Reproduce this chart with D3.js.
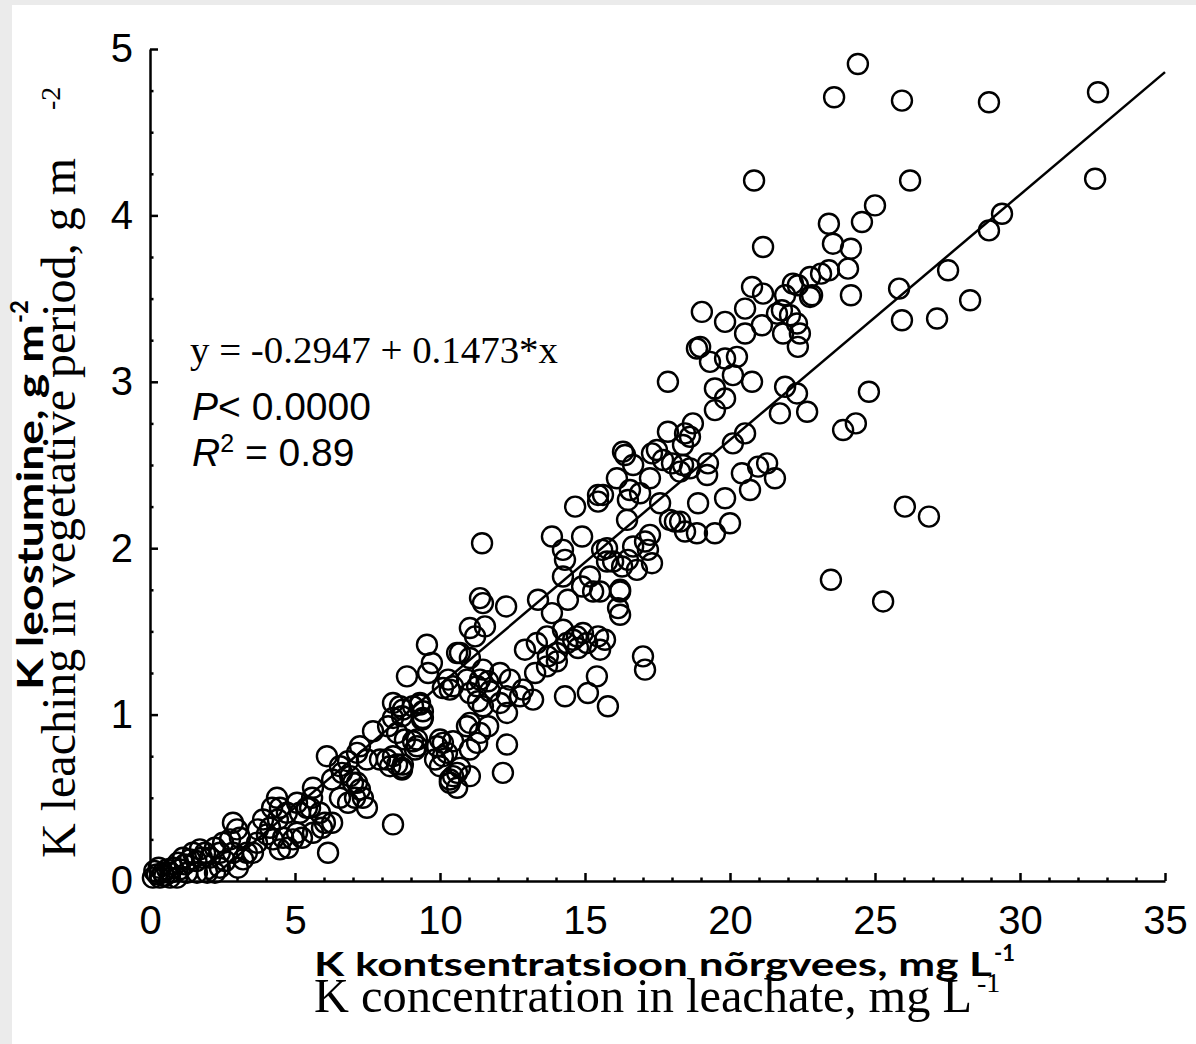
<!DOCTYPE html>
<html>
<head>
<meta charset="utf-8">
<script src="https://cdn.jsdelivr.net/npm/d3@7"></script>
<style>
  body { margin: 0; background: #ebebeb; }
  svg { display: block; }
</style>
</head>
<body>
<script>
// K concentration in leachate (mg/L) vs K leaching (g/m2), one pair per sample
const points = [
  [24.41,4.91],[23.59,4.71],[25.93,4.69],[28.93,4.68],[32.69,4.74],[32.59,4.22],[26.21,4.21],[25.0,4.06],[24.55,3.96],[23.41,3.95],
  [23.55,3.83],[24.17,3.80],[24.07,3.68],[23.41,3.67],[23.14,3.65],[22.76,3.63],[22.83,3.52],[24.17,3.52],[25.83,3.56],[27.52,3.67],
  [28.28,3.49],[28.93,3.91],[29.38,4.01],[20.83,4.21],[21.14,3.81],[25.93,3.37],[27.14,3.38],[24.79,2.94],[24.34,2.75],[23.90,2.71],
  [26.03,2.25],[26.86,2.19],[23.48,1.81],[25.28,1.68],
  [22.76,3.51],[22.34,3.58],[22.17,3.59],[21.79,3.43],[22.07,3.40],[22.31,3.35],[22.41,3.29],[22.34,3.21],[21.83,3.29],[21.62,3.41],
  [21.90,3.52],[21.10,3.34],[21.14,3.53],[20.76,3.57],[20.52,3.44],[20.52,3.29],[19.83,3.36],[19.03,3.42],[18.86,3.20],[18.97,3.21],
  [19.31,3.12],[19.83,3.14],[20.24,3.15],[20.10,3.04],[20.76,3.00],[17.86,3.00],[19.48,2.96],[19.83,2.90],[19.48,2.83],[21.90,2.97],
  [22.31,2.93],[21.72,2.81],[22.66,2.82],[20.52,2.69],[20.10,2.63],[18.72,2.75],[18.45,2.69],[17.86,2.70],[18.62,2.67],[17.48,2.59],
  [16.31,2.58],[16.38,2.56],[17.31,2.57],[17.69,2.53],[18.0,2.51],[18.38,2.50],[18.28,2.46],[18.62,2.48],[19.24,2.51],[19.21,2.44],
  [16.66,2.50],[16.10,2.42],[15.62,2.32],[17.24,2.42],[16.55,2.35],[16.90,2.33],[16.48,2.29],[17.59,2.27],[16.45,2.17],[17.93,2.17],
  [18.10,2.16],[18.28,2.16],[18.45,2.10],[18.86,2.09],[19.48,2.09],[18.90,2.27],[19.83,2.30],[20.0,2.15],[20.41,2.45],[20.69,2.35],
  [20.97,2.49],[21.28,2.51],[21.55,2.42],[17.24,2.08],[17.07,2.04],[15.76,2.00],[15.97,1.92],[16.48,1.93],[16.79,1.87],[17.31,1.91],
  [17.17,1.99],[16.21,1.74],[16.14,1.64],[15.52,1.74],
  [11.45,2.03],[14.66,2.25],[15.45,2.32],[15.45,2.28],[13.86,2.07],[14.90,2.07],[14.24,1.99],[14.31,1.93],[14.24,1.83],[15.17,1.83],
  [15.59,1.99],[15.76,1.92],[15.28,1.74],[14.90,1.77],[14.41,1.69],[13.38,1.69],[13.86,1.61],[14.24,1.51],[14.72,1.47],[14.93,1.49],
  [14.59,1.45],[15.07,1.43],[15.69,1.45],[15.52,1.39],[14.76,1.40],[14.38,1.43],[14.03,1.37],[13.72,1.35],[14.03,1.32],[13.69,1.29],
  [13.34,1.43],[12.93,1.39],[13.28,1.25],[13.21,1.09],[12.86,1.15],[12.76,1.11],[12.41,1.21],[12.07,1.25],[12.31,1.11],[12.07,1.07],
  [12.31,1.01],[11.48,1.27],[11.38,1.21],[11.28,1.17],[11.66,1.20],[10.93,1.21],[11.03,1.13],[11.31,1.08],[11.48,1.05],[11.72,1.14],
  [10.69,1.37],[11.03,1.34],[11.21,1.47],[11.55,1.53],[11.03,1.52],[11.38,1.70],[11.48,1.67],[12.28,1.65],[9.55,1.42],[9.72,1.31],
  [9.59,1.25],[8.86,1.23],[10.28,1.21],[10.34,1.15],[10.10,1.16],[9.31,1.07],[9.07,1.05],[8.62,1.05],[9.41,0.98],[8.69,0.99],
  [10.93,0.93],[11.03,0.95],[11.38,0.89],[11.66,0.93],[11.28,0.83],[10.10,0.83],[10.24,0.77],[10.0,0.85],[10.45,0.84],[11.03,0.79],
  [12.31,0.82],[10.69,0.68],[10.59,0.65],[11.03,0.63],[10.34,0.61],[10.59,0.56],[9.83,0.73],[9.07,0.84],[9.21,0.81],[8.72,0.70],
  [8.69,0.67],[12.17,0.65],[16.21,1.75],[16.21,1.60],[17.0,1.35],[17.07,1.27],[15.41,1.23],[15.10,1.13],[15.79,1.05],[14.31,1.11],
  [13.69,1.47],[18.38,2.62],[16.66,2.01],[16.28,1.89],[15.45,1.47],
  [10.45,1.17],[10.59,1.37],[8.38,1.07],[8.72,1.03],[9.31,1.06],[9.41,1.02],[9.38,0.97],[8.38,0.98],[8.21,0.93],[7.69,0.90],
  [8.52,0.89],[8.79,0.85],[9.21,0.85],[9.14,0.79],[8.38,0.75],[8.17,0.73],[8.52,0.70],[8.69,0.68],[8.28,0.69],[7.93,0.73],
  [9.90,0.81],[10.10,0.75],[10.0,0.69],[10.45,0.63],[10.34,0.59],[6.10,0.75],[6.28,0.61],[6.55,0.69],[6.83,0.72],[7.14,0.77],
  [7.24,0.81],[7.48,0.73],[6.62,0.65],[6.90,0.63],[7.14,0.59],[7.24,0.55],[7.07,0.50],[7.34,0.50],[7.48,0.44],[6.83,0.47],
  [7.0,0.59],[6.55,0.50],[8.38,0.34],[5.62,0.56],[5.59,0.50],[5.41,0.44],[5.07,0.47],[5.52,0.44],[5.86,0.41],[5.17,0.41],
  [6.03,0.35],[6.28,0.35],[5.93,0.32],[5.62,0.29],[6.14,0.17],[4.38,0.50],[4.21,0.44],[4.48,0.44],[4.72,0.41],[4.41,0.37],
  [4.14,0.32],[4.03,0.28],[4.24,0.25],[4.59,0.26],[5.07,0.29],[4.93,0.25],[5.24,0.26],[4.76,0.20],[4.48,0.19],[3.72,0.31],
  [3.90,0.37],[3.69,0.23],[3.34,0.17],[3.55,0.17],[2.86,0.35],[3.0,0.31],[3.10,0.26],[2.76,0.25],[2.86,0.17],[3.21,0.13],
  [3.03,0.08],[2.52,0.23],[2.41,0.17],[2.24,0.20],[2.07,0.14],[1.79,0.14],[1.72,0.19],[1.48,0.17],[1.38,0.13],[1.14,0.14],
  [0.97,0.11],[0.79,0.08],[1.03,0.07],[1.28,0.05],[0.59,0.07],[0.45,0.05],[0.24,0.04],[0.10,0.02],[0.34,0.02],[0.69,0.02],
  [0.93,0.02],[2.41,0.08],[1.97,0.05],[1.62,0.05],[2.24,0.05],[0.15,0.06],[0.5,0.03],[0.3,0.08],[0.7,0.05],[1.2,0.10],
  [1.6,0.12],[1.9,0.17],[2.6,0.12]
];

const xTicks = [0, 5, 10, 15, 20, 25, 30, 35];
const yTicks = [0, 1, 2, 3, 4, 5];
const xMinor = d3.range(1, 35).filter(v => v % 5 !== 0);
const yMinor = d3.range(0.25, 5, 0.25).filter(v => v % 1 !== 0);

// regression given on the chart
const intercept = -0.2947, slope = 0.1473;
const eqText = "y = -0.2947 + 0.1473*x";
const pText = "< 0.0000";
const r2Text = " = 0.89";

const xTitleEt = "K kontsentratsioon nõrgvees, mg L";
const xTitleEn = "K concentration in leachate, mg L";
const yTitleEt = "K leostumine, g m";
const yTitleEn = "K leaching in vegetative period, g m";

let width = 1196, height = 1044;
let margin = { top: 49, right: 31, bottom: 163, left: 150 };

let svg = d3.select("body").append("svg")
    .attr("width", width)
    .attr("height", height);

// grey frame + white page
svg.append("rect").attr("width", width).attr("height", height).attr("fill", "#ebebeb");
svg.append("rect").attr("x", 12).attr("y", 5)
    .attr("width", width - 12).attr("height", height - 5).attr("fill", "#fff");

let x = d3.scaleLinear().domain([0, 35]).range([margin.left, width - margin.right]);
let y = d3.scaleLinear().domain([0, 5]).range([height - margin.bottom, margin.top]);

const sans = "'Liberation Sans', Arial, sans-serif";
const serif = "'Liberation Serif', 'Times New Roman', serif";
const bold = "Lato, 'Open Sans', sans-serif";

function styleAxis(g) {
    g.select(".domain").attr("stroke", "#000").attr("stroke-width", 2.5);
    g.selectAll(".tick line").attr("stroke", "#000").attr("stroke-width", 2.5);
    g.selectAll(".tick text").attr("fill", "#000")
        .style("font-family", sans).style("font-size", "40px");
}

// X axis
let gx = svg.append("g")
    .attr("transform", "translate(0," + y(0) + ")")
    .call(d3.axisBottom(x).tickValues(xTicks).tickFormat(d3.format("d"))
        .tickSize(-8).tickSizeOuter(0).tickPadding(25));
styleAxis(gx);
let gxm = svg.append("g")
    .attr("transform", "translate(0," + y(0) + ")")
    .call(d3.axisBottom(x).tickValues(xMinor).tickSize(-3.5).tickFormat(""));
gxm.select(".domain").remove();
styleAxis(gxm);

// Y axis
let gy = svg.append("g")
    .attr("transform", "translate(" + x(0) + ",0)")
    .call(d3.axisLeft(y).tickValues(yTicks).tickFormat(d3.format("d"))
        .tickSize(-8).tickSizeOuter(0).tickPadding(17));
styleAxis(gy);
let gym = svg.append("g")
    .attr("transform", "translate(" + x(0) + ",0)")
    .call(d3.axisLeft(y).tickValues(yMinor).tickSize(-3.5).tickFormat(""));
gym.select(".domain").remove();
styleAxis(gym);

// points
svg.append("g").selectAll("circle")
    .data(points)
    .join("circle")
    .attr("cx", d => x(d[0]))
    .attr("cy", d => y(d[1]))
    .attr("r", 10)
    .attr("fill", "none")
    .attr("stroke", "#000")
    .attr("stroke-width", 2.4);

// fitted line, from where it crosses y=0 up to x=35
const x0 = -intercept / slope;
svg.append("line")
    .attr("x1", x(x0)).attr("y1", y(intercept + slope * x0))
    .attr("x2", x(35)).attr("y2", y(intercept + slope * 35))
    .attr("stroke", "#000").attr("stroke-width", 2.5);

// statistics
svg.append("text").attr("x", 190).attr("y", 363)
    .attr("textLength", 368).attr("lengthAdjust", "spacingAndGlyphs")
    .style("font-family", serif).style("font-size", "38px").text(eqText);

let pt = svg.append("text").attr("x", 192).attr("y", 420)
    .style("font-family", sans).style("font-size", "39px");
pt.append("tspan").style("font-style", "italic").text("P");
pt.append("tspan").text(pText);

let rt = svg.append("text").attr("x", 192).attr("y", 466)
    .style("font-family", sans).style("font-size", "39px");
rt.append("tspan").style("font-style", "italic").text("R");
rt.append("tspan").attr("dy", -14).style("font-size", "25px").text("2");
rt.append("tspan").attr("dy", 14).text(r2Text);

// x titles
svg.append("text").attr("x", 314).attr("y", 976)
    .attr("textLength", 678).attr("lengthAdjust", "spacingAndGlyphs")
    .style("font-family", bold).style("font-weight", "bold").style("font-size", "33px")
    .text(xTitleEt);
svg.append("text").attr("x", 994).attr("y", 961)
    .style("font-family", bold).style("font-weight", "bold").style("font-size", "22px")
    .text("-1");
svg.append("text").attr("x", 314).attr("y", 1012)
    .attr("textLength", 658).attr("lengthAdjust", "spacingAndGlyphs")
    .style("font-family", serif).style("font-size", "48px")
    .text(xTitleEn);
svg.append("text").attr("x", 977).attr("y", 992)
    .style("font-family", serif).style("font-size", "28px")
    .text("-1");

// y titles (rotated)
svg.append("text").attr("transform", "translate(43,690) rotate(-90)")
    .attr("textLength", 366).attr("lengthAdjust", "spacingAndGlyphs")
    .style("font-family", bold).style("font-weight", "bold").style("font-size", "37px")
    .text(yTitleEt);
svg.append("text").attr("transform", "translate(28,323) rotate(-90)")
    .style("font-family", bold).style("font-weight", "bold").style("font-size", "24px")
    .text("-2");
svg.append("text").attr("transform", "translate(75,858) rotate(-90)")
    .attr("textLength", 700).attr("lengthAdjust", "spacingAndGlyphs")
    .style("font-family", serif).style("font-size", "48px")
    .text(yTitleEn);
svg.append("text").attr("transform", "translate(60,110) rotate(-90)")
    .style("font-family", serif).style("font-size", "28px")
    .text("-2");
</script>
</body>
</html>
